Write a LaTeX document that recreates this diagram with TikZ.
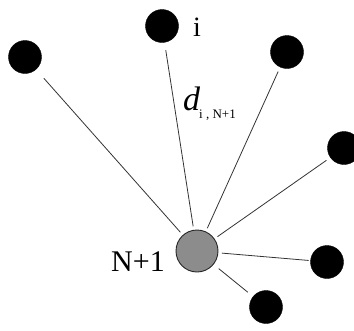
\documentclass[tikz,border=0pt]{standalone}
\usepackage{fontspec}
\setmainfont{Liberation Serif}
\usetikzlibrary{positioning}
\tikzset{
  leaf/.style={circle,fill=black,draw=black,minimum size=33pt,inner sep=0pt,outer sep=5pt},
  hub/.style={circle,fill=black!45,draw=black!85,line width=.9pt,minimum size=42pt,inner sep=0pt,outer sep=4pt},
  spoke/.style={line width=.8pt,draw=black!80}
}
\begin{document}
\begin{tikzpicture}[x=1pt,y=-1pt]
\useasboundingbox (0,0) rectangle (354,330);
\node[hub] (h) at (197,251) {};
\node[leaf] (v1) at (25,57) {};
\node[leaf] (v2) at (162,26) {};
\node[leaf] (v3) at (287,52) {};
\node[leaf] (v4) at (344,148) {};
\node[leaf] (v5) at (327,262) {};
\node[leaf] (v6) at (266,307) {};
\draw[spoke,shorten <=7pt] (v1)--(h);
\draw[spoke,shorten <=3pt] (v2)--(h);
\draw[spoke] (v3)--(h);
\draw[spoke] (v4)--(h);
\draw[spoke,shorten <=-3pt] (v5)--(h);
\draw[spoke,shorten <=2pt,shorten >=3pt] (v6)--(h);
\node[font=\fontsize{28}{28}\selectfont] (ilab) at (197,27) {i};
\node[anchor=west,inner sep=0pt] (dlab) at (183,104) {\fontsize{34}{34}\selectfont\itshape d\kern-1pt\raisebox{-8pt}{\upshape\fontsize{13}{13}\selectfont i , N+1}};
\node[font=\fontsize{30}{30}\selectfont] (nlab) at (138,262) {N+1};
\end{tikzpicture}
\end{document}
